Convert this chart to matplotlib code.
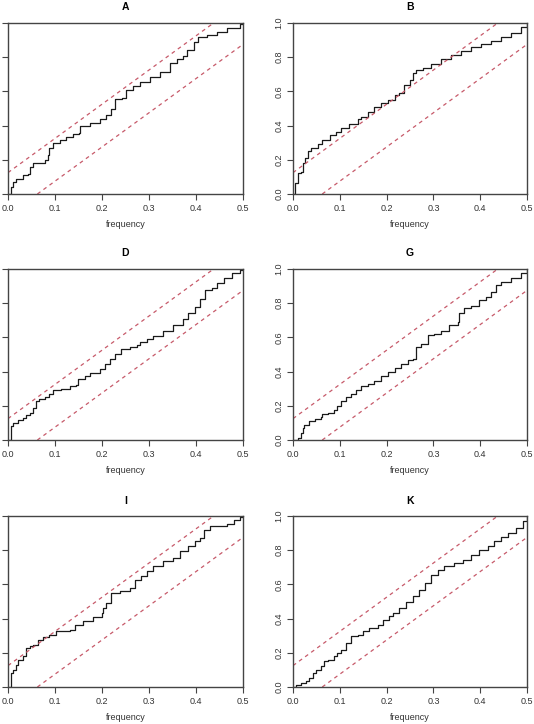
import matplotlib
matplotlib.use("Agg")
import matplotlib.pyplot as plt

plt.rcParams['font.family'] = ['Liberation Sans', 'DejaVu Sans']

# cumulative periodogram readings per panel (frequency, cumulative fraction)
labels = ['A', 'B', 'D', 'G', 'I', 'K']

freq_A = [0.0, 0.006, 0.010, 0.017, 0.021, 0.031, 0.042, 0.046, 0.053, 0.071, 0.078, 0.085,
          0.088, 0.095, 0.110, 0.124, 0.138, 0.152, 0.154, 0.174, 0.195, 0.209, 0.220, 0.227,
          0.242, 0.252, 0.266, 0.281, 0.302, 0.323, 0.345, 0.359, 0.373, 0.380, 0.395, 0.405,
          0.423, 0.444, 0.466, 0.494, 0.500]
cum_A = [0.0, 0.04, 0.07, 0.086, 0.09, 0.11, 0.117, 0.16, 0.183, 0.183, 0.20, 0.23,
         0.27, 0.30, 0.316, 0.335, 0.35, 0.355, 0.40, 0.417, 0.437, 0.46, 0.50, 0.554,
         0.56, 0.61, 0.63, 0.657, 0.686, 0.715, 0.764, 0.787, 0.807, 0.842, 0.89, 0.92,
         0.93, 0.945, 0.97, 0.995, 1.0]

freq_B = [0.0, 0.004, 0.010, 0.011, 0.017, 0.021, 0.026, 0.031, 0.038, 0.046, 0.053, 0.063,
          0.078, 0.092, 0.103, 0.120, 0.138, 0.145, 0.160, 0.174, 0.188, 0.202, 0.217, 0.227,
          0.238, 0.249, 0.256, 0.263, 0.277, 0.295, 0.316, 0.338, 0.359, 0.380, 0.402, 0.423,
          0.444, 0.466, 0.487, 0.500]
cum_B = [0.0, 0.062, 0.066, 0.12, 0.13, 0.18, 0.21, 0.25, 0.267, 0.27, 0.29, 0.316,
         0.345, 0.365, 0.384, 0.41, 0.437, 0.452, 0.48, 0.507, 0.53, 0.55, 0.58, 0.593,
         0.637, 0.667, 0.706, 0.725, 0.735, 0.76, 0.787, 0.813, 0.838, 0.86, 0.877, 0.897,
         0.92, 0.943, 0.975, 1.0]

freq_D = [0.0, 0.006, 0.010, 0.021, 0.031, 0.038, 0.046, 0.053, 0.060, 0.067, 0.078, 0.088,
          0.095, 0.113, 0.131, 0.145, 0.149, 0.163, 0.174, 0.195, 0.206, 0.217, 0.227, 0.241,
          0.259, 0.274, 0.281, 0.295, 0.309, 0.330, 0.352, 0.373, 0.384, 0.398, 0.409, 0.420,
          0.434, 0.444, 0.459, 0.476, 0.494, 0.500]
cum_D = [0.0, 0.082, 0.10, 0.118, 0.13, 0.145, 0.16, 0.19, 0.23, 0.24, 0.25, 0.27,
         0.29, 0.30, 0.318, 0.32, 0.357, 0.376, 0.39, 0.416, 0.445, 0.475, 0.504, 0.533,
         0.545, 0.553, 0.576, 0.59, 0.61, 0.635, 0.67, 0.706, 0.74, 0.78, 0.827, 0.876,
         0.89, 0.916, 0.945, 0.975, 0.996, 1.0]

freq_G = [0.0, 0.010, 0.017, 0.021, 0.024, 0.035, 0.046, 0.060, 0.063, 0.074, 0.088, 0.095,
          0.103, 0.113, 0.124, 0.135, 0.145, 0.160, 0.174, 0.188, 0.202, 0.217, 0.231, 0.245,
          0.256, 0.263, 0.274, 0.288, 0.302, 0.316, 0.334, 0.352, 0.355, 0.366, 0.380, 0.398,
          0.412, 0.423, 0.434, 0.444, 0.466, 0.487, 0.500]
cum_G = [0.0, 0.014, 0.043, 0.07, 0.09, 0.11, 0.125, 0.137, 0.15, 0.16, 0.176, 0.196,
         0.23, 0.25, 0.27, 0.29, 0.314, 0.327, 0.347, 0.376, 0.40, 0.42, 0.445, 0.465,
         0.475, 0.543, 0.563, 0.612, 0.62, 0.64, 0.67, 0.69, 0.74, 0.77, 0.784, 0.818,
         0.837, 0.867, 0.906, 0.925, 0.945, 0.975, 1.0]

freq_I = [0.0, 0.006, 0.010, 0.017, 0.021, 0.031, 0.038, 0.046, 0.053, 0.063, 0.074, 0.088,
          0.103, 0.131, 0.142, 0.160, 0.181, 0.199, 0.202, 0.209, 0.220, 0.238, 0.259, 0.270,
          0.284, 0.295, 0.309, 0.330, 0.352, 0.366, 0.384, 0.398, 0.409, 0.416, 0.430, 0.452,
          0.466, 0.480, 0.494, 0.500]
cum_I = [0.0, 0.082, 0.10, 0.13, 0.16, 0.18, 0.228, 0.238, 0.248, 0.273, 0.292, 0.306,
         0.326, 0.335, 0.365, 0.384, 0.41, 0.433, 0.462, 0.49, 0.55, 0.563, 0.58, 0.628,
         0.647, 0.676, 0.71, 0.735, 0.754, 0.793, 0.823, 0.852, 0.871, 0.92, 0.94, 0.943,
         0.955, 0.975, 0.994, 1.0]

freq_K = [0.0, 0.006, 0.017, 0.028, 0.035, 0.042, 0.049, 0.060, 0.067, 0.074, 0.088, 0.095,
          0.103, 0.113, 0.124, 0.138, 0.149, 0.163, 0.181, 0.192, 0.206, 0.213, 0.227, 0.241,
          0.256, 0.270, 0.281, 0.295, 0.309, 0.323, 0.345, 0.363, 0.380, 0.398, 0.416, 0.430,
          0.444, 0.459, 0.476, 0.491, 0.500]
cum_K = [0.0, 0.014, 0.023, 0.037, 0.053, 0.082, 0.10, 0.12, 0.15, 0.16, 0.18, 0.20,
         0.218, 0.257, 0.296, 0.306, 0.33, 0.345, 0.365, 0.39, 0.413, 0.433, 0.462, 0.50,
         0.53, 0.57, 0.608, 0.657, 0.686, 0.706, 0.725, 0.745, 0.774, 0.80, 0.823, 0.852,
         0.88, 0.90, 0.93, 0.97, 1.0]

freqs = [freq_A, freq_B, freq_D, freq_G, freq_I, freq_K]
cums = [cum_A, cum_B, cum_D, cum_G, cum_I, cum_K]

crit = 0.125       # KS band half-width
xm = 0.5
xticks_v = [0.0, 0.1, 0.2, 0.3, 0.4, 0.5]
yticks_v = [0.0, 0.2, 0.4, 0.6, 0.8, 1.0]

W, H = 534, 724
fig = plt.figure(figsize=(W / 100, H / 100), dpi=100)

col_left = [8, 293]
col_w = [235, 234]
row_top = [23, 269, 516]
row_h = 171

ci_col = '#c75a6a'
frame_col = '#444444'

for i, lab in enumerate(labels):
    r, c = divmod(i, 2)
    ax = fig.add_axes([col_left[c] / W, (H - row_top[r] - row_h) / H,
                       col_w[c] / W, row_h / H])
    ax.step(freqs[i], cums[i], where='post', color='#1a1a1a', lw=0.9)
    ax.plot([0, xm * (1 - crit)], [crit, 1], ls=(0, (3, 3)), color=ci_col, lw=0.9)
    ax.plot([xm * crit, xm], [0, 1 - crit], ls=(0, (3, 3)), color=ci_col, lw=0.9)
    ax.set_xlim(0, 0.5)
    ax.set_ylim(0, 1)
    ax.set_xticks(xticks_v)
    ax.set_xticklabels(['%.1f' % v for v in xticks_v])
    ax.set_yticks(yticks_v)
    if c == 1:
        ax.set_yticklabels(['%.1f' % v for v in yticks_v], rotation=90, va='center')
    else:
        ax.set_yticklabels([])
    ax.tick_params(length=4, width=0.8, color=frame_col, labelsize=6.5,
                   labelcolor='#333333', pad=3)
    for s in ax.spines.values():
        s.set_color(frame_col)
        s.set_linewidth(1.0)
    ax.set_xlabel('frequency', fontsize=6.5, color='#333333', labelpad=5)
    ax.set_title(lab, fontsize=7.5, fontweight='bold', pad=9)

fig.savefig('out.png', dpi=100)
